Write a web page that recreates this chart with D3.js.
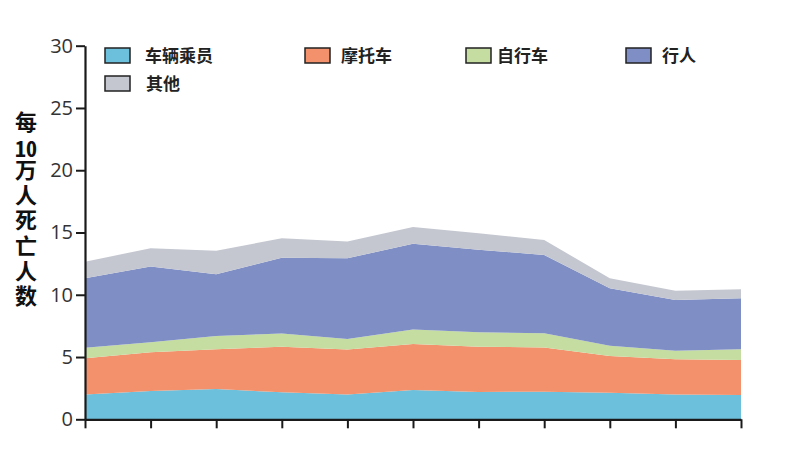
<!DOCTYPE html>
<html><head><meta charset="utf-8">
<script src="https://cdn.jsdelivr.net/npm/d3@7"></script>
<style>
html,body{margin:0;padding:0;background:#fff;}
#wrap{position:relative;width:800px;height:463px;}
svg{display:block;}
#ytitle{position:absolute;writing-mode:vertical-rl;text-orientation:upright;
  font-family:'Noto Sans CJK SC',sans-serif;font-weight:bold;font-size:22px;line-height:1;
  color:#111;letter-spacing:3.3px;white-space:nowrap;}
#ytitle .tcy{text-combine-upright:all;}
</style></head>
<body>
<div id="wrap"><svg id="c" width="800" height="463"></svg></div>
<script>
const categories = [0,1,2,3,4,5,6,7,8,9,10];
const seriesNames = ["车辆乘员","摩托车","自行车","行人","其他"];
const vehicle    = [2.0, 2.27, 2.43, 2.17, 2.0, 2.35, 2.2, 2.22, 2.14, 2.0, 1.95];
const motorcycle = [2.9, 3.11, 3.19, 3.66, 3.6, 3.7, 3.63, 3.55, 2.94, 2.82, 2.81];
const bicycle    = [0.85, 0.8, 1.07, 1.05, 0.85, 1.17, 1.17, 1.13, 0.83, 0.69, 0.86];
const pedestrian = [5.58, 6.08, 4.95, 6.1, 6.48, 6.88, 6.62, 6.3, 4.61, 4.07, 4.1];
const other      = [1.33, 1.47, 1.9, 1.55, 1.34, 1.35, 1.32, 1.2, 0.8, 0.75, 0.72];
const yTicks = [0,5,10,15,20,25,30];
const yTitle = ["每","10","万人死亡人数"];
const colors = ["#6cc0dc","#f2916c","#c6dda1","#7f8fc5","#c4c7d0"];

const seriesValues = [vehicle, motorcycle, bicycle, pedestrian, other];
const rows = categories.map((c,i)=>{
  const r = {cat:c};
  seriesNames.forEach((n,k)=> r[n] = seriesValues[k][i]);
  return r;
});

const svg = d3.select("#c");
const x = d3.scalePoint().domain(categories).range([85, 741]);
const y = d3.scaleLinear().domain([0,30]).range([419.3, 45.7]);

const stack = d3.stack().keys(seriesNames);
const layers = stack(rows);
const area = d3.area()
  .x(d=>x(d.data.cat))
  .y0(d=>y(d[0]))
  .y1(d=>y(d[1]));

svg.append("g").selectAll("path").data(layers).join("path")
  .attr("d", area)
  .attr("fill",(d,i)=>colors[i]);

// Y axis
const yAxis = svg.append("g").attr("transform","translate(85,0)")
  .call(d3.axisLeft(y).tickValues(yTicks).tickSize(9).tickPadding(3).tickSizeOuter(0));
yAxis.select(".domain").attr("stroke","#1a1a1a").attr("stroke-width",2.2);
yAxis.selectAll(".tick line").attr("stroke","#1a1a1a").attr("stroke-width",2);
yAxis.selectAll(".tick text").attr("fill","#333").attr("font-family","'Open Sans', sans-serif").attr("font-size",20);

// X axis
const xAxis = svg.append("g").attr("transform","translate(0,419.3)")
  .call(d3.axisBottom(x).tickSize(9).tickFormat("").tickSizeOuter(0));
xAxis.select(".domain").attr("stroke","#1a1a1a").attr("stroke-width",2.2);
xAxis.selectAll(".tick line").attr("stroke","#1a1a1a").attr("stroke-width",2);

// Y title (vertical text, "10" combined upright)
const yt = d3.select("#wrap").append("div").attr("id","ytitle")
  .style("left","15px").style("top","111px");
yt.append("span").text(yTitle[0]);
yt.append("span").attr("class","tcy").text(yTitle[1]);
yt.append("span").text(yTitle[2]);

// Legend
const legendPos = [
  {sx:105, tx:145, sy:48},
  {sx:305, tx:341, sy:48},
  {sx:466, tx:497, sy:48},
  {sx:626, tx:662, sy:48},
  {sx:105, tx:146, sy:76}
];
const lg = svg.append("g");
seriesNames.forEach((n,i)=>{
  const p = legendPos[i];
  lg.append("rect").attr("x",p.sx).attr("y",p.sy).attr("width",25).attr("height",15)
    .attr("fill",colors[i]).attr("stroke","#222").attr("stroke-width",1.5);
  lg.append("text").attr("x",p.tx).attr("y",p.sy+13.5)
    .attr("font-family","'Noto Sans CJK SC', sans-serif").attr("font-weight","bold")
    .attr("font-size",17).attr("fill","#222").text(n);
});
</script>
</body></html>
